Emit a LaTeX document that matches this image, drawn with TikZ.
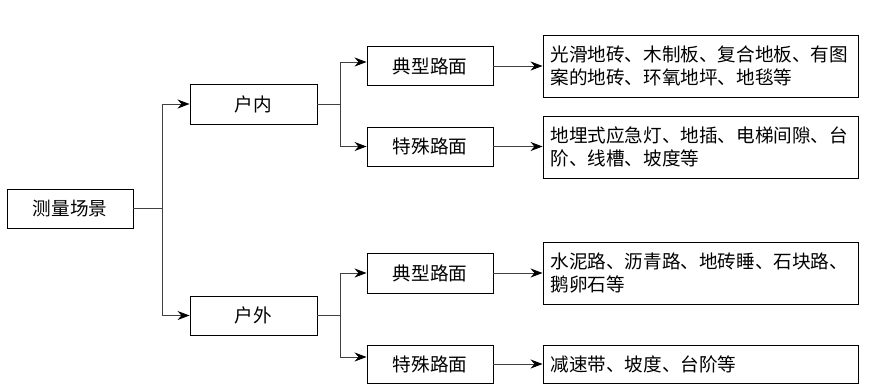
\documentclass[tikz,border=0pt]{standalone}
\usepackage{fontspec}
\newfontfamily\cjk{Noto Sans CJK SC}
\usetikzlibrary{arrows.meta,calc}
\begin{document}
\begin{tikzpicture}[x=1pt,y=-1pt,
  txt/.style={font=\cjk\fontsize{18.6pt}{22.5pt}\selectfont},
  box/.style={txt, draw=black, line width=0.9pt, inner sep=0pt,
    minimum width=126pt, minimum height=39pt},
  desc/.style={txt, draw=black, line width=0.9pt, text width=300pt,
    inner xsep=7.5pt, inner ysep=0pt, minimum height=62pt, align=left},
  conn/.style={draw=black!75, line width=0.9pt},
  arr/.style={conn, -{Stealth[length=12pt,width=9pt,black]}}]
\useasboundingbox (0,0) rectangle (874,388);

\node[box] (root) at (70,208.5) {测量场景};
\node[box, minimum width=127pt, minimum height=40pt] (in) at (253.5,104) {户内};
\node[box, minimum width=127pt] (out) at (253.5,315.5) {户外};
\node[box] (t1) at (430,66) {典型路面};
\node[box] (s1) at (430,146.5) {特殊路面};
\node[box, minimum height=40pt] (t2) at (430,273) {典型路面};
\node[box, minimum height=38pt] (s2) at (430,364) {特殊路面};

\node[desc] (d1) at (700.5,66) {光滑地砖、木制板、复合地板、有图\\案的地砖、环氧地坪、地毯等};
\node[desc] (d2) at (700.5,147) {地埋式应急灯、地插、电梯间隙、台\\阶、线槽、坡度等};
\node[desc] (d3) at (700.5,273) {水泥路、沥青路、地砖睡、石块路、\\鹅卵石等};
\node[desc, minimum height=38pt] (d4) at (700.5,364) {减速带、坡度、台阶等};

\coordinate (j0) at ($(root.east)+(29,0)$);
\coordinate (j1) at ($(in.east)+(23,0)$);
\coordinate (j2) at ($(out.east)+(23,0)$);

\draw[conn] (root.east) -- (j0);
\draw[arr] (j0) |- (in.west);
\draw[arr] (j0) |- (out.west);

\draw[conn] (in.east) -- (j1);
\draw[arr] (j1) |- ($(t1.west)+(0,-4)$);
\draw[arr] (j1) |- (s1.west);

\draw[conn] (out.east) -- (j2);
\draw[arr] (j2) |- (t2.west);
\draw[arr] (j2) |- ($(s2.west)+(0,-7)$);

\draw[arr] (t1.east) -- (t1.east -| d1.west);
\draw[arr] (s1.east) -- (s1.east -| d2.west);
\draw[arr] (t2.east) -- (t2.east -| d3.west);
\draw[arr] (s2.east) -- (s2.east -| d4.west);
\end{tikzpicture}
\end{document}
